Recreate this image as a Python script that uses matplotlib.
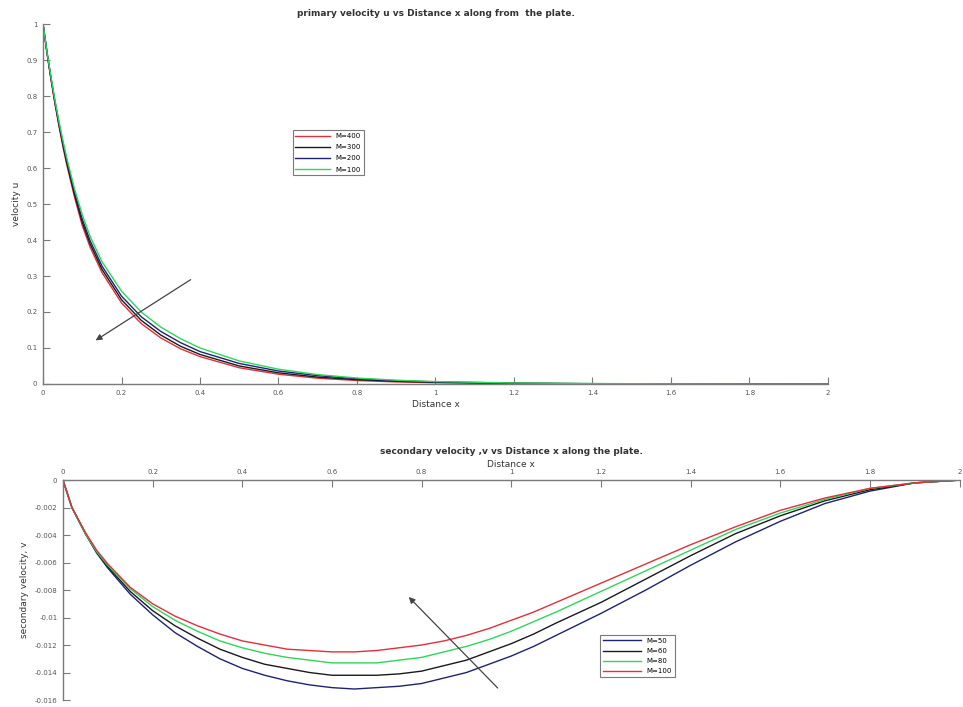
import numpy as np
import matplotlib.pyplot as plt
from matplotlib.ticker import FuncFormatter

# primary velocity u against distance x
x_u = [0, 0.01, 0.02, 0.03, 0.04, 0.05, 0.06, 0.08, 0.10, 0.12, 0.15, 0.20, 0.25,
       0.30, 0.35, 0.40, 0.50, 0.60, 0.70, 0.80, 0.90, 1.00, 1.20, 1.40, 1.60, 1.80, 2.00]
u_m400 = [1, 0.920, 0.848, 0.781, 0.720, 0.663, 0.611, 0.520, 0.440, 0.380, 0.310, 0.225, 0.168,
          0.128, 0.098, 0.076, 0.045, 0.027, 0.016, 0.0095, 0.0057, 0.0034, 0.0012, 0.0004, 0.0001, 0, 0]
u_m300 = [1, 0.921, 0.850, 0.784, 0.724, 0.668, 0.617, 0.527, 0.449, 0.389, 0.319, 0.234, 0.177,
          0.136, 0.105, 0.082, 0.050, 0.031, 0.019, 0.0120, 0.0075, 0.0046, 0.0017, 0.0006, 0.0002, 0.0001, 0]
u_m200 = [1, 0.922, 0.852, 0.787, 0.728, 0.673, 0.623, 0.534, 0.458, 0.398, 0.328, 0.244, 0.187,
          0.146, 0.115, 0.090, 0.057, 0.036, 0.023, 0.0145, 0.0092, 0.0058, 0.0023, 0.0009, 0.0003, 0.0001, 0]
u_m100 = [1, 0.923, 0.855, 0.791, 0.733, 0.680, 0.630, 0.543, 0.470, 0.410, 0.340, 0.258, 0.200,
          0.158, 0.126, 0.100, 0.064, 0.041, 0.026, 0.0165, 0.0105, 0.0067, 0.0028, 0.0011, 0.0004, 0.0001, 0]

# secondary velocity v against distance x
x_v = [0, 0.02, 0.05, 0.075, 0.10, 0.15, 0.20, 0.25, 0.30, 0.35, 0.40, 0.45, 0.50, 0.55, 0.60, 0.65, 0.70,
       0.75, 0.80, 0.85, 0.90, 0.95, 1.00, 1.05, 1.10, 1.20, 1.30, 1.40, 1.50, 1.60, 1.70, 1.80, 1.90, 2.00]
v_m50 = [0, -0.0020, -0.0039, -0.0053, -0.0064, -0.0083, -0.0098, -0.0111, -0.0121, -0.0130, -0.0137,
         -0.0142, -0.0146, -0.0149, -0.0151, -0.0152, -0.0151, -0.0150, -0.0148, -0.0144, -0.0140, -0.0134,
         -0.0128, -0.0121, -0.0113, -0.0097, -0.0080, -0.0062, -0.0045, -0.0030, -0.0017, -0.0008, -0.0002, 0]
v_m60 = [0, -0.0020, -0.0039, -0.0052, -0.0063, -0.0081, -0.0095, -0.0106, -0.0115, -0.0123, -0.0129,
         -0.0134, -0.0137, -0.0140, -0.0142, -0.0142, -0.0142, -0.0141, -0.0139, -0.0135, -0.0131, -0.0125,
         -0.0119, -0.0112, -0.0104, -0.0089, -0.0072, -0.0055, -0.0039, -0.0026, -0.0015, -0.0007, -0.0002, 0]
v_m80 = [0, -0.0020, -0.0039, -0.0052, -0.0062, -0.0079, -0.0092, -0.0102, -0.0110, -0.0117, -0.0122,
         -0.0126, -0.0129, -0.0131, -0.0133, -0.0133, -0.0133, -0.0131, -0.0129, -0.0125, -0.0121, -0.0116,
         -0.0110, -0.0103, -0.0096, -0.0081, -0.0066, -0.0051, -0.0036, -0.0024, -0.0014, -0.0006, -0.0002, 0]
v_m100 = [0, -0.0020, -0.0038, -0.0051, -0.0061, -0.0078, -0.0090, -0.0099, -0.0106, -0.0112, -0.0117,
          -0.0120, -0.0123, -0.0124, -0.0125, -0.0125, -0.0124, -0.0122, -0.0120, -0.0117, -0.0113, -0.0108,
          -0.0102, -0.0096, -0.0089, -0.0075, -0.0061, -0.0047, -0.0034, -0.0022, -0.0013, -0.0006, -0.0002, 0]

RED = '#e0303c'
BLACK = '#1a1a1a'
NAVY = '#1c2470'
GREEN = '#2ed65a'
GRAY = '#7a7a7a'
TXT = '#333333'

fmt = FuncFormatter(lambda v, p: '%g' % round(v, 6) if abs(v) > 1e-9 else '0')

fig = plt.figure(figsize=(9.63, 7.07), dpi=100)

# top panel
ax1 = fig.add_axes([0.0447, 0.4569, 0.815, 0.509])
ax1.plot(x_u, u_m400, color=RED, lw=1.0, label='M=400')
ax1.plot(x_u, u_m300, color=BLACK, lw=1.0, label='M=300')
ax1.plot(x_u, u_m200, color=NAVY, lw=1.0, label='M=200')
ax1.plot(x_u, u_m100, color=GREEN, lw=1.0, label='M=100')
ax1.set_xlim(0, 2)
ax1.set_ylim(0, 1)
ax1.set_xticks(np.arange(0, 2.01, 0.2))
ax1.set_yticks(np.arange(0, 1.01, 0.1))
ax1.xaxis.set_major_formatter(fmt)
ax1.yaxis.set_major_formatter(fmt)
ax1.set_title('primary velocity u vs Distance x along from  the plate.',
              fontsize=6.5, fontweight='bold', color=TXT, pad=6)
ax1.set_xlabel('Distance x', fontsize=6.5, color=TXT, labelpad=3)
ax1.set_ylabel('velocity u', fontsize=6.5, color=TXT, labelpad=4)
ax1.annotate('', xy=(0.128, 0.117), xytext=(0.382, 0.294),
             arrowprops=dict(arrowstyle='-|>', color='#444444', lw=0.9,
                             mutation_scale=9))
leg1 = ax1.legend(loc='upper left', bbox_to_anchor=(0.318, 0.705), borderaxespad=0,
                  fontsize=5, handlelength=5, labelspacing=0.75, fancybox=False,
                  edgecolor=GRAY, framealpha=1)
leg1.get_frame().set_linewidth(0.8)

# bottom panel
ax2 = fig.add_axes([0.0654, 0.0099, 0.931, 0.311])
ax2.plot(x_v, v_m50, color=NAVY, lw=1.0, label='M=50')
ax2.plot(x_v, v_m60, color=BLACK, lw=1.0, label='M=60')
ax2.plot(x_v, v_m80, color=GREEN, lw=1.0, label='M=80')
ax2.plot(x_v, v_m100, color=RED, lw=1.0, label='M=100')
ax2.set_xlim(0, 2)
ax2.set_ylim(-0.016, 0)
ax2.xaxis.set_ticks_position('top')
ax2.xaxis.set_label_position('top')
ax2.set_xticks(np.arange(0, 2.01, 0.2))
ax2.set_yticks(np.arange(-0.016, 0.0001, 0.002))
ax2.xaxis.set_major_formatter(fmt)
ax2.yaxis.set_major_formatter(fmt)
ax2.set_xlabel('Distance x', fontsize=6.5, color=TXT, labelpad=1)
ax2.set_title('secondary velocity ,v vs Distance x along the plate.',
              fontsize=6.5, fontweight='bold', color=TXT, pad=19)
ax2.set_ylabel('secondary velocity, v', fontsize=6.5, color=TXT, labelpad=4)
ax2.annotate('', xy=(0.767, -0.00836), xytext=(0.974, -0.01527),
             arrowprops=dict(arrowstyle='-|>', color='#444444', lw=0.9,
                             mutation_scale=9))
leg2 = ax2.legend(loc='upper left', bbox_to_anchor=(0.599, 0.295), borderaxespad=0,
                  fontsize=5, handlelength=5.5, labelspacing=0.6, fancybox=False,
                  edgecolor=GRAY, framealpha=1)
leg2.get_frame().set_linewidth(0.8)

for ax, shown in ((ax1, ('left', 'bottom')), (ax2, ('left', 'top'))):
    for side, sp in ax.spines.items():
        sp.set_visible(side in shown)
        sp.set_color(GRAY)
        sp.set_linewidth(1.0)
    ax.tick_params(direction='in', length=5, width=0.8, colors=GRAY,
                   labelsize=5, labelcolor='#555555', pad=4)
ax1.tick_params(right=False, top=False)
ax2.tick_params(right=False, bottom=False)

fig.savefig('out.png', dpi=100, facecolor='white')
